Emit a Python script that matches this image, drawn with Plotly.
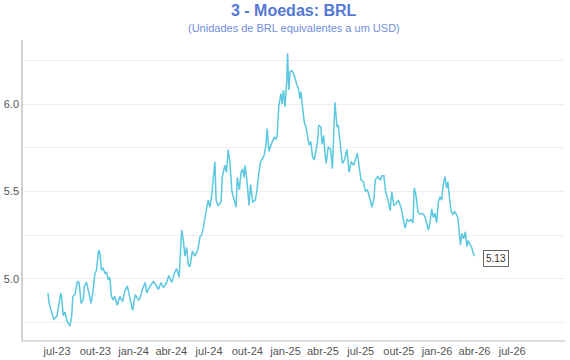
import pandas as pd
import plotly.graph_objects as go

# Series start date; offsets are days after it
start_date = "2023-06-09"

day_offsets = [
    0, 3, 9, 14, 19, 22, 31, 33, 37, 41, 46, 53, 57, 60, 65, 71, 75, 80, 85, 88,
    93, 97, 104, 109, 113, 117, 122, 125, 129, 133, 138, 141, 145, 149, 153, 157, 161, 167, 173, 180,
    185, 191, 196, 199, 204, 210, 218,
    222, 226, 234, 238, 246, 254, 259, 266, 272, 278, 286, 291, 298, 304, 310, 316, 322, 326, 330, 334,
    338, 342, 348, 354, 361, 366, 370, 374, 378, 382, 386, 390, 394, 398, 402, 405, 410, 417, 420, 426,
    430, 434, 438, 443, 448,
    453, 456, 461, 465, 469, 472, 475, 480, 484, 488, 493, 499, 503, 507, 512, 517, 521, 525, 528, 532,
    536, 540, 545, 549, 552, 556, 561, 564, 567, 571, 575, 577, 580, 583, 587, 591, 595, 599, 603, 607,
    609, 614, 617, 622, 626, 629, 633, 637, 641,
    645, 649, 652, 657, 660, 664, 667, 670, 675, 681, 685, 689, 691, 696, 699, 703, 709, 714, 720, 725,
    730, 736, 740, 745, 750, 754, 760, 764, 769, 773, 780, 785, 788, 794, 800, 804, 809, 813, 820, 824,
    828, 833, 838, 844, 850, 856, 860, 865, 870, 874, 879, 882, 886, 891, 896, 902, 907, 912, 916, 920,
    924, 928, 932, 936, 940, 944, 948, 952, 956, 960, 963, 967, 971, 975, 979, 983, 987, 990, 993, 997,
    1001, 1005, 1009, 1012, 1017, 1021, 1025, 1027,
]

brl_values = [
    4.92, 4.86, 4.81, 4.77, 4.78, 4.79, 4.92, 4.89, 4.79, 4.81, 4.76, 4.73, 4.78, 4.90, 4.91, 4.985, 4.98, 4.86, 4.88, 4.96,
    4.98, 4.94, 4.86, 4.94, 5.03, 5.05, 5.165, 5.15, 5.05, 5.06, 5.03, 5.04, 4.995, 5.01, 4.90, 4.88, 4.90, 4.85, 4.90, 4.87,
    4.93, 4.96, 4.90, 4.86, 4.82, 4.91, 4.88,
    4.89, 4.93, 4.98, 4.92, 4.96, 4.985, 4.97, 4.94, 4.98, 4.95, 4.98, 5.02, 4.98, 5.03, 5.06, 5.01, 5.28, 5.22, 5.13, 5.18,
    5.08, 5.07, 5.16, 5.13, 5.165, 5.24, 5.25, 5.29, 5.35, 5.41, 5.45, 5.41, 5.47, 5.57, 5.67, 5.45, 5.42, 5.44, 5.585, 5.65,
    5.61, 5.74, 5.67, 5.50, 5.46,
    5.41, 5.58, 5.51, 5.61, 5.63, 5.58, 5.65, 5.54, 5.42, 5.54, 5.44, 5.45, 5.50, 5.59, 5.67, 5.69, 5.71, 5.765, 5.86, 5.73,
    5.765, 5.785, 5.81, 5.80, 5.82, 5.99, 6.06, 6.00, 6.08, 5.985, 6.13, 6.29, 6.08, 6.185, 6.19, 6.175, 6.15, 6.11, 6.09, 6.03,
    6.07, 5.975, 5.90, 5.86, 5.81, 5.765, 5.785, 5.70, 5.68,
    5.74, 5.78, 5.88, 5.87, 5.77, 5.82, 5.72, 5.66, 5.755, 5.74, 5.63, 5.89, 6.01, 5.87, 5.88, 5.79, 5.66, 5.68, 5.74, 5.61,
    5.67, 5.65, 5.68, 5.72, 5.63, 5.565, 5.555, 5.50, 5.51, 5.48, 5.41, 5.46, 5.565, 5.585, 5.565, 5.59, 5.59, 5.50, 5.44, 5.39,
    5.50, 5.42, 5.43, 5.45, 5.41, 5.34, 5.29, 5.34, 5.33, 5.34, 5.32, 5.52, 5.48, 5.385, 5.37, 5.375, 5.36, 5.32, 5.28, 5.32,
    5.40, 5.35, 5.375, 5.32, 5.44, 5.47, 5.45, 5.54, 5.585, 5.52, 5.555, 5.46, 5.385, 5.37, 5.385, 5.37, 5.35, 5.28, 5.195, 5.26,
    5.23, 5.27, 5.185, 5.22, 5.195, 5.175, 5.14, 5.13,
]

tick_dates = ["2023-07-01", "2023-10-01", "2024-01-01", "2024-04-01", "2024-07-01",
              "2024-10-01", "2025-01-01", "2025-04-01", "2025-07-01", "2025-10-01",
              "2026-01-01", "2026-04-01", "2026-07-01"]
tick_labels = ["jul-23", "out-23", "jan-24", "abr-24", "jul-24", "out-24", "jan-25",
               "abr-25", "jul-25", "out-25", "jan-26", "abr-26", "jul-26"]

title_text = "3 - Moedas: BRL"
subtitle_text = "(Unidades de BRL equivalentes a um USD)"

dates = pd.Timestamp(start_date) + pd.to_timedelta(day_offsets, unit="D")

fig = go.Figure()
fig.add_trace(go.Scatter(
    x=dates, y=brl_values, mode="lines",
    line=dict(color="#5BC8E0", width=1.5),
    hoverinfo="x+y", showlegend=False,
))

fig.add_annotation(
    x=dates[-1], y=brl_values[-1], text=f"{brl_values[-1]:.2f}",
    showarrow=False, xanchor="left", yanchor="middle", xshift=9, yshift=-2,
    font=dict(size=10, color="#333333"),
    bgcolor="white", bordercolor="#666666", borderwidth=1, borderpad=2,
)

fig.add_annotation(
    text=f"<b>{title_text}</b>", xref="paper", yref="paper",
    x=0.5, y=1.097, xanchor="center", yanchor="middle", showarrow=False,
    font=dict(size=16, color="#5577D4"),
)
fig.add_annotation(
    text=subtitle_text, xref="paper", yref="paper",
    x=0.5, y=1.04, xanchor="center", yanchor="middle", showarrow=False,
    font=dict(size=11, color="#6F8EE0"),
)

fig.update_layout(
    width=570, height=360,
    margin=dict(l=23, r=5, t=40, b=20, autoexpand=False),
    paper_bgcolor="white", plot_bgcolor="white",
    font=dict(family="Liberation Sans, Arial, sans-serif", size=11, color="#555555"),
    xaxis=dict(
        type="date",
        range=["2023-04-10", "2026-11-05"],
        tickvals=tick_dates, ticktext=tick_labels,
        showgrid=False, showline=True, linecolor="#DDDDDD", linewidth=2,
        ticks="", tickfont=dict(size=11, color="#555555"),
        zeroline=False, automargin=False,
    ),
    yaxis=dict(
        range=[4.651, 6.366],
        tick0=0, dtick=0.5, tickformat=".1f",
        showgrid=True, gridcolor="#EEEEEE", gridwidth=1,
        minor=dict(dtick=0.25, tick0=0, showgrid=True, gridcolor="#EEEEEE", gridwidth=1),
        showline=True, linecolor="#D0D0D0", linewidth=1.5,
        ticks="", tickfont=dict(size=11, color="#555555"),
        zeroline=False, automargin=False,
    ),
)

fig.write_html(
    "out.html",
    config={"displayModeBar": False},
    post_script="document.body.style.margin='0';document.body.style.overflow='hidden';",
)
